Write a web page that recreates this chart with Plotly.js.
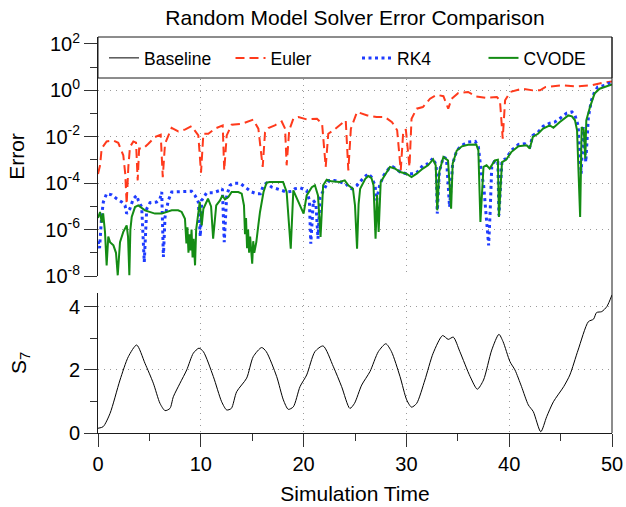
<!DOCTYPE html>
<html>
<head>
<meta charset="utf-8">
<script src="https://cdn.plot.ly/plotly-3.0.1.min.js"></script>
<style>
  html, body { margin: 0; padding: 0; background: #fff; }
  #chart { width: 626px; height: 507px; }
</style>
</head>
<body>
<div id="chart"></div>
<script>
// ---------------- data ----------------
// Error series are given as log10(error)
const eulerT = [0, 0.2, 0.36, 0.84, 1.49, 1.97, 2.46, 2.65, 2.79, 2.95,
  3.11, 3.44, 3.7, 3.86, 4.0, 4.4, 4.9, 5.54, 6.1, 6.3,
  6.52, 7.16, 7.81, 8.5, 9.1, 9.76, 10.02, 10.25, 10.73, 11.38,
  12.13, 12.28, 12.52, 13.0, 13.98, 15.1, 15.6, 16.02, 16.25, 16.57,
  17.2, 17.87, 18.2, 18.35, 18.6, 19.0, 19.5, 20.3, 21.3, 21.8,
  22.15, 22.4, 22.9, 23.7, 24.1, 24.35, 24.6, 25.2, 26.2, 27.1,
  27.9, 28.6, 29.1, 29.45, 29.7, 29.95, 30.3, 30.5, 31.0, 31.6,
  32.3, 32.95, 33.6, 34.07, 34.4, 35.05, 36.0, 36.8, 37.7, 38.8,
  39.1, 39.37, 39.6, 40.1, 41.2, 42.3, 43.0, 43.5, 45.1, 46.4,
  48.0, 49.0, 50];
const eulerLog10 = [-3.6, -3.23, -2.5, -2.2, -2.16, -2.26, -2.8, -3.6, -4.9, -3.3,
  -2.44, -2.2, -2.25, -3.88, -2.51, -2.51, -2.3, -2.01, -1.91, -3.74,
  -2.3, -1.62, -1.77, -1.68, -1.54, -1.94, -3.55, -1.87, -1.87, -1.65,
  -1.51, -3.45, -1.94, -1.48, -1.44, -1.26, -1.65, -3.3, -1.8, -1.62,
  -1.51, -1.34, -1.65, -3.23, -1.72, -1.22, -1.15, -1.25, -1.22, -1.44,
  -3.3, -1.87, -1.72, -1.44, -1.29, -3.45, -1.65, -0.93, -1.08, -1.15,
  -1.15, -1.37, -1.72, -3.45, -1.72, -1.7, -3.3, -1.22, -0.79, -0.72,
  -0.36, -0.19, -0.25, -0.79, -0.36, -0.11, -0.07, -0.26, -0.32, -0.29,
  -0.43, -2.08, -0.43, -0.07, 0.07, 0.0, 0.0, 0.14, 0.22, 0.17,
  0.22, 0.32, 0.38];

const rk4T = [0, 0.15, 0.36, 0.52, 0.84, 1.33, 1.82, 2.3, 2.63, 2.79,
  3.1, 3.44, 3.77, 3.92, 4.25, 4.5, 4.74, 5.06, 5.7, 6.03,
  6.2, 6.36, 6.52, 6.84, 7.17, 8.14, 9.1, 9.44, 9.76, 9.95,
  10.09, 10.57, 11.2, 11.87, 12.1, 12.28, 12.52, 12.84, 13.3, 13.8,
  14.3, 14.95, 15.4, 15.8, 16.1, 16.4, 16.9, 17.4, 17.9, 18.35,
  18.85, 19.16, 19.65, 20.3, 20.56, 20.7, 20.95, 21.2, 21.4, 21.6,
  22.2, 22.5, 23.0, 23.5, 24.1, 24.4, 24.7, 25.2, 25.8, 26.3,
  26.6, 26.95, 27.1, 27.4, 27.8, 28.3, 28.7, 29.4, 30.0, 30.7,
  31.0, 31.6, 32.1, 32.6, 32.9, 33.0, 33.2, 33.6, 33.9, 34.2,
  34.5, 34.9, 35.4, 36.0, 36.7, 37.0, 37.3, 37.5, 37.7, 37.85,
  38.0, 38.15, 38.3, 38.6, 38.9, 39.0, 39.3, 39.7, 40.2, 40.9,
  41.5, 42.0, 42.3, 42.8, 43.3, 43.95, 44.4, 44.9, 45.6, 46.1,
  46.4, 46.7, 47.0, 47.2, 47.45, 47.7, 48.0, 48.3, 48.6, 49.3,
  50];
const rk4Log10 = [-6.5, -6.8, -5.39, -4.81, -4.45, -4.5, -4.67, -4.81, -4.96, -5.31,
  -5.1, -4.67, -4.53, -4.74, -5.03, -7.4, -5.1, -4.84, -4.81, -4.67,
  -4.38, -7.18, -5.46, -4.74, -4.38, -4.35, -4.35, -4.53, -4.81, -6.3,
  -4.74, -4.41, -4.41, -4.31, -4.24, -6.54, -4.53, -4.09, -4.0, -4.0,
  -4.17, -4.38, -4.45, -4.45, -4.09, -4.0, -4.17, -4.24, -4.31, -4.38,
  -4.35, -4.24, -4.2, -4.31, -4.74, -6.61, -4.74, -4.9, -6.39, -4.6,
  -4.09, -3.88, -3.88, -3.95, -4.02, -4.17, -4.24, -4.09, -3.78, -3.59,
  -3.74, -4.09, -4.74, -4.09, -3.66, -3.37, -3.3, -3.52, -3.59, -3.59,
  -3.55, -3.23, -3.16, -2.92, -3.23, -5.31, -3.5, -2.87, -2.94, -5.03,
  -3.16, -2.59, -2.37, -2.23, -2.2, -2.44, -3.59, -4.02, -5.0, -6.0,
  -6.68, -5.2, -3.3, -3.02, -3.09, -5.39, -3.02, -2.94, -2.59, -2.33,
  -2.3, -2.44, -1.94, -1.8, -1.55, -1.41, -1.37, -1.22, -0.98, -0.93,
  -1.08, -1.51, -3.59, -1.58, -3.09, -1.15, -0.43, -0.07, 0.14, 0.22,
  0.36];

const cvodeT = [0, 0.2, 0.36, 0.5, 0.68, 0.84, 1.0, 1.17, 1.5, 1.75,
  1.92, 2.14, 2.46, 2.79, 2.92, 3.05, 3.15, 3.28, 3.6, 3.92,
  4.57, 5.54, 6.2, 7.17, 7.8, 8.14, 8.46, 8.6, 8.7, 8.8,
  8.9, 9.0, 9.1, 9.2, 9.3, 9.44, 9.55, 9.76, 9.9, 10.09,
  10.25, 10.7, 11.0, 11.2, 11.5, 11.87, 12.1, 12.35, 12.68, 13.0,
  13.65, 13.98, 14.2, 14.3, 14.4, 14.5, 14.6, 14.7, 14.8, 15.0,
  15.1, 15.2, 15.4, 15.6, 15.76, 16.1, 16.4, 16.7, 18.0, 18.35,
  18.75, 19.0, 19.5, 20.0, 20.3, 20.8, 21.1, 21.4, 21.65, 21.9,
  22.25, 22.7, 23.5, 24.0, 24.35, 24.8, 25.0, 25.2, 25.35, 25.5,
  26.0, 26.3, 26.6, 26.8, 27.0, 27.15, 27.3, 27.5, 27.9, 28.4,
  28.9, 29.4, 30.0, 30.5, 31.0, 31.6, 32.1, 32.6, 32.85, 33.0,
  33.2, 33.6, 34.05, 34.35, 34.5, 34.9, 35.4, 36.0, 36.8, 37.0,
  37.2, 37.5, 37.8, 38.1, 38.6, 38.9, 39.0, 39.3, 39.7, 40.2,
  40.9, 41.7, 42.0, 42.3, 42.8, 43.3, 43.95, 44.3, 44.9, 45.75,
  46.1, 46.4, 46.6, 46.9, 47.05, 47.25, 47.4, 47.5, 47.86, 48.3,
  48.8, 49.4, 50];
const cvodeLog10 = [-5.5, -5.24, -5.7, -5.3, -6.1, -7.54, -6.3, -6.54, -6.68, -7.0,
  -7.97, -6.54, -6.1, -5.82, -6.3, -7.97, -6.0, -5.46, -5.03, -4.96,
  -5.17, -5.31, -5.31, -5.17, -5.17, -5.24, -5.53, -6.6, -5.9, -7.0,
  -6.2, -6.9, -6.0, -7.2, -6.4, -7.54, -6.0, -5.24, -4.81, -5.82,
  -5.1, -4.67, -5.0, -6.39, -4.96, -4.74, -4.53, -4.7, -4.6, -4.38,
  -4.38, -4.45, -4.96, -6.2, -5.5, -6.8, -6.0, -7.0, -6.3, -7.47,
  -6.5, -7.0, -6.54, -5.8, -5.24, -4.38, -3.98, -3.95, -3.95, -4.38,
  -6.82, -4.31, -4.81, -5.31, -4.53, -4.17, -4.09, -4.53, -6.32, -4.09,
  -3.85, -3.92, -3.95, -3.88, -4.09, -4.24, -4.96, -6.82, -4.9, -4.24,
  -3.81, -3.69, -3.78, -4.09, -6.39, -4.5, -6.1, -3.95, -3.66, -3.3,
  -3.37, -3.52, -3.59, -3.74, -3.59, -3.37, -3.23, -2.97, -3.23, -5.17,
  -3.5, -2.87, -3.02, -5.1, -3.16, -2.59, -2.41, -2.34, -2.33, -2.59,
  -5.67, -3.3, -3.23, -3.37, -3.02, -2.99, -5.46, -3.09, -2.99, -2.66,
  -2.41, -2.37, -2.51, -2.01, -1.87, -1.65, -1.51, -1.61, -1.37, -1.08,
  -1.12, -1.29, -1.72, -5.46, -1.58, -1.7, -2.94, -1.29, -0.72, -0.14,
  0.07, 0.17, 0.26];

// Baseline error is zero (reference solution), so it is not visible on the log axis
const baselineT = [0, 50];
const baselineError = [0, 0];

// Bottom panel: S7 trajectory
const s7T = [0, 0.5, 1.17, 2.14, 2.95, 3.76, 4.57, 5.38, 6.03, 6.52,
  7.0, 7.33, 7.98, 8.63, 9.27, 9.82, 10.25, 11.22, 12.03, 12.52,
  12.97, 13.49, 14.46, 15.1, 15.92, 16.37, 17.38, 18.03, 18.51, 19.0,
  19.65, 20.3, 21.1, 21.9, 22.9, 23.7, 24.5, 24.95, 25.65, 26.46,
  27.27, 28.0, 28.55, 29.38, 30.03, 30.5, 31.0, 31.8, 32.6, 33.52,
  34.07, 34.56, 35.2, 36.2, 36.9, 37.5, 38.3, 39.0, 39.4, 40.08,
  40.56, 41.2, 41.86, 42.34, 43.07, 43.65, 44.3, 45.3, 45.9, 46.7,
  47.7, 48.2, 48.5, 49.0, 49.5, 50];
const s7Values = [0.15, 0.2, 0.62, 1.68, 2.42, 2.79, 2.21, 1.58, 0.94, 0.71,
  0.78, 1.15, 1.58, 2.0, 2.53, 2.69, 2.58, 1.79, 0.99, 0.73,
  0.78, 1.31, 1.74, 2.42, 2.71, 2.58, 1.79, 1.05, 0.75, 0.83,
  1.47, 1.84, 2.58, 2.76, 2.1, 1.47, 0.78, 0.94, 1.52, 1.95,
  2.58, 2.83, 2.58, 1.79, 1.05, 0.82, 0.94, 1.68, 2.53, 3.09,
  2.97, 3.04, 2.58, 1.79, 1.39, 1.68, 2.63, 3.13, 2.9, 2.26,
  2.0, 1.47, 0.89, 0.68, 0.04, 0.52, 0.99, 1.47, 1.84, 2.63,
  3.53, 3.61, 3.82, 3.85, 4.01, 4.38];

// tick labels
const errTickExp = [-8, -6, -4, -2, 0, 2];
const errMinorExp = [-7, -5, -3, -1, 1];
const xTicks = [0, 10, 20, 30, 40, 50];
const s7Ticks = [0, 2, 4];

// ---------------- figure ----------------
const pow10 = a => a.map(v => Math.pow(10, v));
const FONT = 'Liberation Sans, Arial, Helvetica, sans-serif';
const AX = '#1a1a1a';
const GRID = '#9a9a9a';

const traces = [
  { x: baselineT, y: baselineError, xaxis: 'x', yaxis: 'y', type: 'scatter', mode: 'lines',
    name: 'Baseline', line: { color: '#000000', width: 1 } },
  { x: eulerT, y: pow10(eulerLog10), xaxis: 'x', yaxis: 'y', type: 'scatter', mode: 'lines',
    name: 'Euler', line: { color: '#ff3a1c', width: 2, dash: '9px,5px' } },
  { x: rk4T, y: pow10(rk4Log10), xaxis: 'x', yaxis: 'y', type: 'scatter', mode: 'lines',
    name: 'RK4', line: { color: '#1f3cff', width: 3, dash: '3px,3.5px' } },
  { x: cvodeT, y: pow10(cvodeLog10), xaxis: 'x', yaxis: 'y', type: 'scatter', mode: 'lines',
    name: 'CVODE', line: { color: '#148c14', width: 2 } },
  { x: s7T, y: s7Values, xaxis: 'x2', yaxis: 'y2', type: 'scatter', mode: 'lines',
    name: 'S7', showlegend: false, line: { color: '#000000', width: 1, shape: 'spline', smoothing: 0.7 } }
];

const H = 396; // plot area height
const py = px => (433 - px) / H; // page pixel -> paper y

const layout = {
  width: 626, height: 507,
  margin: { l: 98, r: 14, t: 37, b: 74, pad: 0, autoexpand: false },
  paper_bgcolor: '#ffffff', plot_bgcolor: '#ffffff',
  font: { family: FONT, color: '#000000', size: 20 },
  showlegend: true,
  title: { text: 'Random Model Solver Error Comparison', font: { family: FONT, size: 21, color: '#000' },
    x: 0.567, xanchor: 'center', xref: 'container', y: 1 - 18 / 507, yanchor: 'middle', yref: 'container' },
  xaxis: {
    domain: [0, 1], anchor: 'y', range: [0, 50], showline: false, zeroline: false,
    showticklabels: false, ticks: '', tickmode: 'array', tickvals: xTicks,
    showgrid: true, gridcolor: GRID, gridwidth: 1, griddash: '1.2px,4.8px'
  },
  yaxis: {
    domain: [py(276), 1], anchor: 'x', type: 'log', range: [-8, 2.3],
    showline: true, linecolor: AX, linewidth: 1, zeroline: false,
    ticks: 'outside', ticklen: 13, tickwidth: 1, tickcolor: '#333',
    tickmode: 'array', tickvals: pow10(errTickExp),
    ticktext: errTickExp.map(e => '10<sup>' + e + '</sup>'),
    tickfont: { family: FONT, size: 20, color: '#000' },
    minor: { tickmode: 'array', tickvals: pow10(errMinorExp), ticks: 'outside', ticklen: 7,
      tickwidth: 1, tickcolor: '#333', showgrid: false },
    showgrid: true, gridcolor: GRID, gridwidth: 1, griddash: '1.2px,4.8px',
    title: { text: 'Error', font: { family: FONT, size: 21, color: '#000' }, standoff: 14 }
  },
  xaxis2: {
    domain: [0, 1], anchor: 'y2', range: [0, 50],
    showline: true, linecolor: AX, linewidth: 1, zeroline: false,
    ticks: 'outside', ticklen: 13, tickwidth: 1, tickcolor: '#333',
    tickmode: 'array', tickvals: xTicks,
    tickfont: { family: FONT, size: 20, color: '#000' },
    minor: { dtick: 5, tick0: 0, ticks: 'outside', ticklen: 7, tickwidth: 1, tickcolor: '#333', showgrid: false },
    showgrid: true, gridcolor: GRID, gridwidth: 1, griddash: '1.2px,4.8px',
    title: { text: 'Simulation Time', font: { family: FONT, size: 21, color: '#000' }, standoff: 12 }
  },
  yaxis2: {
    domain: [0, py(293)], anchor: 'x2', range: [0, 4.44],
    showline: true, linecolor: AX, linewidth: 1, zeroline: false,
    ticks: 'outside', ticklen: 13, tickwidth: 1, tickcolor: '#333',
    tickmode: 'array', tickvals: s7Ticks,
    tickfont: { family: FONT, size: 20, color: '#000' },
    minor: { dtick: 1, tick0: 0, ticks: 'outside', ticklen: 7, tickwidth: 1, tickcolor: '#333', showgrid: false },
    showgrid: true, gridcolor: GRID, gridwidth: 1, griddash: '1.2px,4.8px',
    title: { text: 'S<sub>7</sub>', font: { family: FONT, size: 21, color: '#000' }, standoff: 36 }
  },
  legend: {
    orientation: 'h', x: 6 / 514, xanchor: 'left', y: py(58), yanchor: 'middle',
    bgcolor: 'rgba(0,0,0,0)', borderwidth: 0,
    entrywidth: 81.5, entrywidthmode: 'pixels',
    font: { family: FONT, size: 17.5, color: '#000' }
  },
  shapes: [
    { type: 'rect', xref: 'paper', yref: 'paper', x0: 0, x1: 1, y0: py(78), y1: 1,
      fillcolor: '#ffffff', line: { color: AX, width: 1 }, layer: 'above' },
    { type: 'line', xref: 'paper', yref: 'paper', x0: 1, x1: 1, y0: 0, y1: 1,
      line: { color: AX, width: 1 }, layer: 'above' }
  ]
};

Plotly.newPlot('chart', traces, layout, { displayModeBar: false, staticPlot: true });
</script>
</body>
</html>
